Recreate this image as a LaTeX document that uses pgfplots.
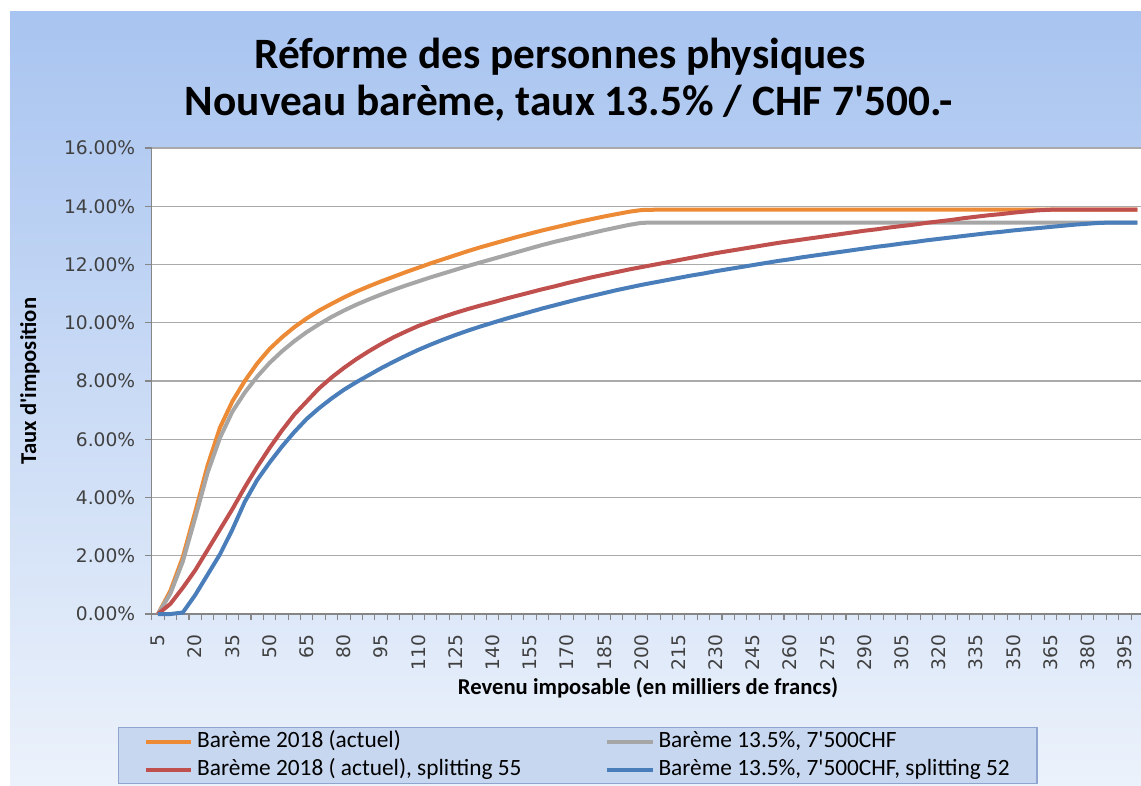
\documentclass[border=0pt]{standalone}
\usepackage{fontspec}
\setmainfont{Carlito}
\newfontfamily\tickfont{DejaVu Sans}
\usepackage{pgfplots}
\pgfplotsset{compat=1.18}
\usepackage{pgfplotstable}
\definecolor{corange}{RGB}{236,138,53}
\definecolor{cgray}{RGB}{166,166,166}
\definecolor{cred}{RGB}{192,80,77}
\definecolor{cblue}{RGB}{74,126,187}
\definecolor{bgtop}{RGB}{168,196,240}
\definecolor{bgbot}{RGB}{236,242,251}
\definecolor{gridc}{RGB}{170,170,170}
\definecolor{axisc}{RGB}{134,134,134}
\definecolor{tickc}{RGB}{64,64,64}
\definecolor{legfill}{RGB}{200,215,240}
\definecolor{legdraw}{RGB}{142,166,207}

\pgfplotstableread{
x o g r b
5 0 0 0 0
10 0.8 0.7 0.35 0
15 1.95 1.8 0.9 0.05
20 3.5 3.3 1.5 0.65
25 5.1 4.85 2.2 1.35
30 6.4 6.05 2.9 2.05
35 7.3 6.95 3.6 2.9
40 8.0 7.6 4.35 3.85
45 8.6 8.15 5.05 4.6
50 9.1 8.62 5.7 5.2
55 9.5 9.02 6.3 5.75
60 9.85 9.37 6.85 6.25
65 10.15 9.68 7.3 6.7
70 10.42 9.95 7.75 7.07
75 10.65 10.2 8.12 7.4
80 10.87 10.42 8.45 7.7
85 11.07 10.62 8.75 7.96
90 11.25 10.8 9.02 8.2
95 11.42 10.97 9.27 8.44
100 11.58 11.13 9.5 8.66
105 11.74 11.28 9.7 8.87
110 11.89 11.42 9.89 9.07
115 12.04 11.56 10.05 9.25
120 12.18 11.69 10.2 9.42
125 12.32 11.82 10.34 9.58
130 12.46 11.95 10.47 9.73
135 12.59 12.07 10.59 9.87
140 12.71 12.19 10.7 10.0
145 12.83 12.31 10.82 10.13
150 12.95 12.43 10.93 10.25
155 13.06 12.55 11.04 10.37
160 13.17 12.67 11.15 10.49
165 13.27 12.78 11.25 10.6
170 13.37 12.88 11.36 10.71
175 13.47 12.98 11.46 10.82
180 13.56 13.08 11.56 10.92
185 13.65 13.18 11.65 11.02
190 13.73 13.27 11.74 11.12
195 13.81 13.36 11.83 11.21
200 13.87 13.43 11.91 11.3
205 13.88 13.44 11.99 11.38
210 13.88 13.44 12.07 11.46
215 13.88 13.44 12.15 11.54
220 13.88 13.44 12.23 11.62
225 13.88 13.44 12.31 11.69
230 13.88 13.44 12.39 11.77
235 13.88 13.44 12.46 11.84
240 13.88 13.44 12.53 11.91
245 13.88 13.44 12.6 11.98
250 13.88 13.44 12.67 12.05
255 13.88 13.44 12.74 12.12
260 13.88 13.44 12.8 12.18
265 13.88 13.44 12.86 12.25
270 13.88 13.44 12.92 12.31
275 13.88 13.44 12.98 12.37
280 13.88 13.44 13.04 12.43
285 13.88 13.44 13.1 12.49
290 13.88 13.44 13.16 12.55
295 13.88 13.44 13.21 12.61
300 13.88 13.44 13.27 12.66
305 13.88 13.44 13.32 12.72
310 13.88 13.44 13.37 12.77
315 13.88 13.44 13.43 12.83
320 13.88 13.44 13.48 12.88
325 13.88 13.44 13.53 12.93
330 13.88 13.44 13.59 12.98
335 13.88 13.44 13.64 13.03
340 13.88 13.44 13.69 13.08
345 13.88 13.44 13.73 13.12
350 13.88 13.44 13.78 13.17
355 13.88 13.44 13.82 13.21
360 13.88 13.44 13.86 13.25
365 13.88 13.44 13.88 13.29
370 13.88 13.44 13.88 13.33
375 13.88 13.44 13.88 13.37
380 13.88 13.44 13.88 13.4
385 13.88 13.44 13.88 13.43
390 13.88 13.44 13.88 13.44
395 13.88 13.44 13.88 13.44
400 13.88 13.44 13.88 13.44
}\taux

\begin{document}
\begin{tikzpicture}[x=0.75pt,y=0.75pt]
\useasboundingbox (0,0) rectangle (1141,785);
\fill[white] (0,0) rectangle (1141,785);
\shade[top color=bgtop, bottom color=bgbot] (10,0) rectangle (1141,773);
\node[anchor=base, font=\bfseries\fontsize{32.5}{37}\selectfont] at (560,716) {Réforme des personnes physiques};
\node[anchor=base, font=\bfseries\fontsize{32.5}{37}\selectfont] at (569,669) {Nouveau barème, taux 13.5\% / CHF 7\textquotesingle500.-};
\begin{axis}[
  at={(113.85pt,128.25pt)}, anchor=south west,
  scale only axis, width=741.9pt, height=349.5pt,
  xmin=2.5, xmax=401.5, ymin=0, ymax=16,
  enlargelimits=false, clip=false,
  axis background/.style={fill=white},
  axis x line*=bottom, axis y line*=left,
  axis line style={draw=axisc, line width=1pt},
  tick align=outside,
  xtick={5,20,...,395},
  minor xtick={2.5,7.5,...,402.5},
  major x tick style={draw=none},
  minor x tick style={draw=axisc, line width=0.8pt},
  minor tick length=4.5pt,
  ytick={0,2,...,16},
  major y tick style={draw=axisc, line width=0.8pt},
  major tick length=5.25pt,
  ymajorgrids,
  major grid style={draw=gridc, line width=1.1pt},
  /pgf/number format/assume math mode=true,
  ticklabel style={font=\tickfont\fontsize{14}{16}\selectfont, text=tickc},
  xticklabel={\pgfmathprintnumber{\tick}},
  yticklabel={\pgfmathprintnumber[fixed,fixed zerofill,precision=2]{\tick}\%},
  xticklabel style={rotate=90, anchor=east, inner xsep=10pt},
  yticklabel style={anchor=east, inner xsep=7pt},
  xlabel={Revenu imposable (en milliers de francs)},
  xlabel style={at={(axis description cs:0.5016,-0.1738)}, anchor=base, font=\bfseries\fontsize{17}{20}\selectfont},
  ylabel={Taux d\textquotesingle imposition},
  ylabel style={at={(axis description cs:-0.1231,0.5)}, anchor=center, font=\bfseries\fontsize{17}{20}\selectfont},
  legend columns=2,
  legend image code/.code={\draw[#1] (0pt,0pt) -- (34pt,0pt);},
  legend cell align=left,
  legend style={at={(axis description cs:-0.0342,-0.2425)}, anchor=north west,
    draw=legdraw, fill=legfill, line width=0.8pt,
    font=\fontsize{17.5}{20}\selectfont,
    inner xsep=19pt, inner ysep=0pt,
    nodes={inner ysep=2.5pt, inner xsep=1.5pt, text height=12.5pt, text depth=3.5pt, anchor=west},
    column sep=1.5pt},
  every axis plot/.append style={line width=3pt, line join=round},
]
\addplot[corange] table[x=x,y=o] {\taux};
\addlegendentry{\makebox[303pt][l]{Barème 2018 (actuel)}}
\addplot[cgray] table[x=x,y=g] {\taux};
\addlegendentry{Barème 13.5\%, 7\textquotesingle500CHF}
\addplot[cred] table[x=x,y=r] {\taux};
\addlegendentry{\makebox[303pt][l]{Barème 2018 ( actuel), splitting 55}}
\addplot[cblue] table[x=x,y=b] {\taux};
\addlegendentry{Barème 13.5\%, 7\textquotesingle500CHF, splitting 52}
\end{axis}
\end{tikzpicture}
\end{document}
